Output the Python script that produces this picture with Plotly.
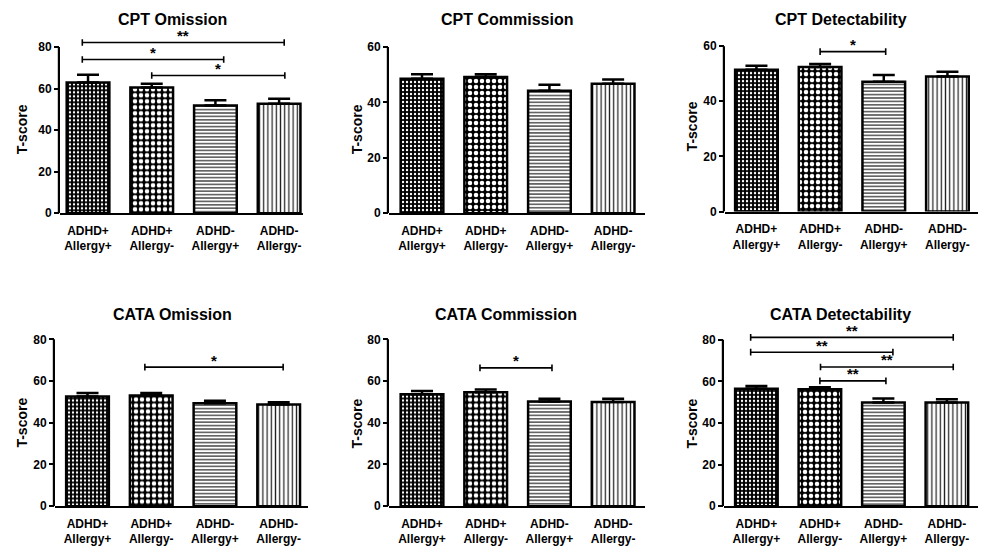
import plotly.graph_objects as go

W, H = 981, 552

groups = ["ADHD+<br>Allergy+", "ADHD+<br>Allergy-", "ADHD-<br>Allergy+", "ADHD-<br>Allergy-"]
titles = ["CPT Omission", "CPT Commission", "CPT Detectability",
          "CATA Omission", "CATA Commission", "CATA Detectability"]

cpt_omission = [62.9, 60.5, 51.9, 52.7]
cpt_omission_sem = [3.8, 1.9, 2.5, 2.4]
cpt_commission = [48.6, 49.2, 44.2, 46.8]
cpt_commission_sem = [1.6, 1.0, 2.2, 1.5]
cpt_detect = [51.4, 52.4, 47.1, 49.0]
cpt_detect_sem = [1.5, 1.1, 2.4, 1.7]
cata_omission = [52.6, 53.1, 49.3, 48.7]
cata_omission_sem = [1.7, 1.2, 1.3, 1.1]
cata_commission = [53.7, 54.6, 50.2, 50.0]
cata_commission_sem = [1.5, 1.3, 1.3, 1.5]
cata_detect = [56.4, 56.2, 49.8, 49.8]
cata_detect_sem = [1.3, 0.9, 1.9, 1.6]

means = [cpt_omission, cpt_commission, cpt_detect, cata_omission, cata_commission, cata_detect]
sems = [cpt_omission_sem, cpt_commission_sem, cpt_detect_sem,
        cata_omission_sem, cata_commission_sem, cata_detect_sem]

yticks_top = [80, 60, 60, 80, 80, 80]

# significance brackets: (from group index, to group index, height, label)
brackets = [
    [(-0.09, 3.08, 82.2, "**"), (-0.09, 2.13, 74.0, "*"), (1.0, 3.09, 66.3, "*")],
    [],
    [(1.0, 2.03, 58.0, "*")],
    [(0.9, 3.07, 66.7, "*")],
    [(0.91, 2.04, 66.3, "*")],
    [(-0.09, 3.1, 81.1, "**"), (-0.09, 2.15, 74.0, "**"), (1.01, 3.1, 66.9, "**"), (1.0, 2.04, 60.2, "**")],
]

# layout in pixels: x of y-axis, x end, y of zero, px per unit, y range max, x range
panels = [
    dict(x0=60, x1=303, yz=216.0, ppu=2.104, ymax=90, xr=[-0.44, 3.375], tx=172.5, ty=20, ax=22, ay=131),
    dict(x0=389, x1=645, yz=216.0, ppu=2.805, ymax=64, xr=[-0.518, 3.5], tx=506.7, ty=20, ax=357, ay=131),
    dict(x0=725, x1=978, yz=214.3, ppu=2.793, ymax=64, xr=[-0.494, 3.48], tx=840.8, ty=20, ax=692, ay=128),
    dict(x0=55, x1=308, yz=512.7, ppu=2.1125, ymax=90, xr=[-0.51, 3.46], tx=172.5, ty=319, ax=22, ay=428),
    dict(x0=389, x1=645, yz=512.7, ppu=2.1125, ymax=90, xr=[-0.518, 3.5], tx=505.8, ty=319, ax=357, ay=429),
    dict(x0=724, x1=978, yz=512.7, ppu=2.108, ymax=90, xr=[-0.51, 3.49], tx=840.8, ty=319, ax=692, ay=429),
]

patterns = [
    dict(shape=".", bgcolor="black", fgcolor="white", size=4, solidity=0.28, fillmode="replace"),
    dict(shape=".", bgcolor="black", fgcolor="white", size=6, solidity=0.45, fillmode="replace"),
    dict(shape="-", bgcolor="white", fgcolor="#222222", size=3.4, solidity=0.35, fillmode="replace"),
    dict(shape="|", bgcolor="white", fgcolor="#222222", size=4.2, solidity=0.3, fillmode="replace"),
]

FONT = "Liberation Sans, Arial, sans-serif"
fig = go.Figure()
shapes = []
annotations = []
layout_axes = {}

for i in range(6):
    p = panels[i]
    k = "" if i == 0 else str(i + 1)
    xa, ya = "x" + k, "y" + k
    ytop_px = p["yz"] - p["ymax"] * p["ppu"]
    xdom = [p["x0"] / W, p["x1"] / W]
    ydom = [1 - p["yz"] / H, 1 - ytop_px / H]
    xpos = list(range(len(groups)))
    for j in range(4):
        fig.add_trace(go.Bar(
            x=[xpos[j]], y=[means[i][j]], width=0.67,
            xaxis=xa, yaxis=ya, showlegend=False,
            marker=dict(color=patterns[j]["bgcolor"], pattern=patterns[j],
                        line=dict(color="black", width=2.5)),
            error_y=dict(type="data", symmetric=False, array=[sems[i][j]], arrayminus=[0],
                         color="black", thickness=2.5, width=11),
        ))
    for (a, b, yv, lab) in brackets[i]:
        d = 1.6 * 2.1 / p["ppu"]
        fig.add_trace(go.Scatter(
            x=[a, a, a, b, b, b], y=[yv - d, yv + d, yv, yv, yv + d, yv - d],
            mode="lines", line=dict(color="black", width=1.6),
            xaxis=xa, yaxis=ya, showlegend=False, hoverinfo="skip"))
        annotations.append(dict(
            text=lab, xref=xa, yref=ya, x=(a + b) / 2, y=yv, showarrow=False,
            xanchor="center", yanchor="middle", yshift=7,
            font=dict(family=FONT, size=15, color="black", weight="bold")))
    layout_axes["xaxis" + k] = dict(
        domain=xdom, range=p["xr"], anchor=ya, tickmode="array", tickvals=xpos, ticktext=groups,
        showline=True, linecolor="black", linewidth=2.2, ticks="", showgrid=False, zeroline=False,
        ticklabelstandoff=5,
        tickfont=dict(family=FONT, size=12, color="black", weight="bold"), fixedrange=True)
    layout_axes["yaxis" + k] = dict(
        domain=ydom, range=[0, p["ymax"]], anchor=xa, tickmode="array",
        tickvals=list(range(0, yticks_top[i] + 1, 20)),
        showline=False, ticks="outside", ticklen=5, tickwidth=2, tickcolor="black",
        showgrid=False, zeroline=False,
        tickfont=dict(family=FONT, size=12, color="black", weight="bold"), fixedrange=True)
    shapes.append(dict(type="line", xref="paper", x0=xdom[0] - 1.1 / W, x1=xdom[0] - 1.1 / W,
                       yref=ya, y0=0, y1=yticks_top[i], line=dict(color="black", width=2.2)))
    annotations.append(dict(text=titles[i], xref="paper", yref="paper", x=p["tx"] / W, y=1 - p["ty"] / H,
                            showarrow=False, xanchor="center", yanchor="middle",
                            font=dict(family=FONT, size=16, color="black", weight="bold")))
    annotations.append(dict(text="T-score", xref="paper", yref="paper", x=p["ax"] / W, y=1 - p["ay"] / H,
                            showarrow=False, xanchor="center", yanchor="middle", textangle=-90,
                            font=dict(family=FONT, size=14, color="black", weight="bold")))

fig.update_layout(
    width=W, height=H, margin=dict(l=0, r=0, t=0, b=0),
    paper_bgcolor="white", plot_bgcolor="white", barmode="overlay",
    shapes=shapes, annotations=annotations, **layout_axes)

fig.write_html("out.html", config=dict(displayModeBar=False),
               post_script="document.body.style.margin='0';")
